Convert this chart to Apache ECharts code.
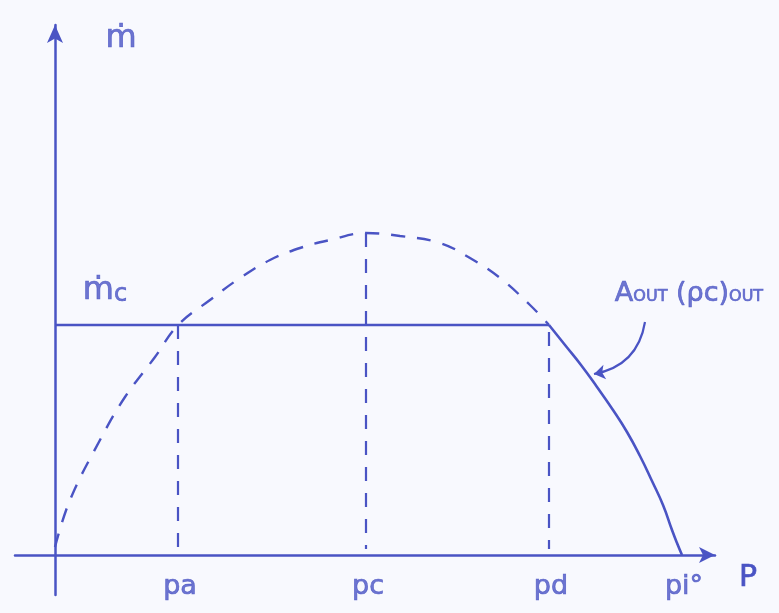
<!DOCTYPE html>
<html>
<head>
<meta charset="utf-8">
<script src="https://cdn.jsdelivr.net/npm/echarts@6/dist/echarts.min.js"></script>
<style>
  html, body { margin: 0; padding: 0; background: #f8f9fe; }
  #chart { width: 779px; height: 613px; }
</style>
</head>
<body>
<div id="chart"></div>
<script>
// Characteristic pressures marked on the p axis
const pressureNames = ['pa', 'pc', 'pd', 'pi°'];
const pressureValues = [12.3, 31.1, 49.4, 62.7];

// Choked mass flow ṁc
const chokedFlow = 23.0;

// Unrestricted mass-flow curve (dashed)
const idealP = [0, 1.5, 4.5, 7.0, 10.0, 12.3, 15.5, 18.5, 21.5, 24.5, 27.5, 31.1, 34.5, 38.5, 41.5, 44.5, 47.5, 49.4];
const idealM = [0.8, 5.5, 11.5, 15.8, 19.8, 23.0, 25.5, 27.7, 29.5, 30.7, 31.5, 32.2, 31.9, 31.2, 29.7, 27.7, 25.0, 23.0];

// Outlet-limited branch Aout(ρc)out (solid)
const outletP = [49.4, 51.0, 52.6, 54.2, 55.8, 57.2, 58.5, 59.7, 60.8, 61.7, 62.2, 62.7];
const outletM = [23.0, 21.0, 19.0, 16.8, 14.5, 12.3, 9.9, 7.4, 5.0, 2.5, 1.2, 0];

// Upper ends of the dashed drop lines at pa, pc, pd
const dropTops = [23.0, 32.2, 22.3];
const dropBottom = 0.6;

const ink = '#4a54c4';
const font = 'DejaVu Sans';
// slight outline thickens the glyphs to a pen-like stroke
const pen = { color: ink, fontFamily: font, textBorderColor: ink, textBorderWidth: 0.7 };

const zip = (xs, ys) => xs.map((x, i) => [x, ys[i]]);

const dropSeries = dropTops.map((top, i) => ({
  type: 'line',
  data: [[pressureValues[i], top], [pressureValues[i], dropBottom]],
  showSymbol: false,
  silent: true,
  lineStyle: { color: ink, width: 2.2, type: [14, 12] }
}));

const chart = echarts.init(document.getElementById('chart'));
chart.setOption({
  backgroundColor: '#f8f9fe',
  animation: false,
  grid: { left: 15, right: 64, top: 25, bottom: 18, containLabel: false },
  xAxis: {
    type: 'value', min: -4, max: 66,
    axisLine: {
      show: true, onZero: true,
      symbol: ['none', 'arrow'], symbolSize: [12, 16],
      lineStyle: { color: ink, width: 2.5 }
    },
    axisTick: { show: false }, axisLabel: { show: false }, splitLine: { show: false },
    name: 'P', nameLocation: 'end', nameGap: 24,
    nameTextStyle: Object.assign({ fontSize: 30, verticalAlign: 'top', padding: [8, 0, 0, 0] }, pen)
  },
  yAxis: {
    type: 'value', min: -4, max: 53,
    axisLine: {
      show: true, onZero: true,
      symbol: ['none', 'arrow'], symbolSize: [12, 18],
      lineStyle: { color: ink, width: 2.5 }
    },
    axisTick: { show: false }, axisLabel: { show: false }, splitLine: { show: false }
  },
  series: [
    {
      type: 'line',
      data: zip(idealP, idealM),
      smooth: 0.4, showSymbol: false, silent: true,
      lineStyle: { color: ink, width: 2.4, type: [14, 12] }
    },
    {
      type: 'line',
      data: [[0, chokedFlow], [pressureValues[2], chokedFlow]],
      showSymbol: false, silent: true,
      lineStyle: { color: ink, width: 2.5 }
    },
    {
      type: 'line',
      data: zip(outletP, outletM),
      smooth: 0.5, showSymbol: false, silent: true,
      lineStyle: { color: ink, width: 2.6 }
    },
    ...dropSeries,
    {
      // pointer from the Aout(ρc)out note to the outlet curve
      type: 'lines',
      coordinateSystem: 'cartesian2d',
      silent: true,
      symbol: ['none', 'arrow'], symbolSize: 11,
      lineStyle: { color: ink, width: 2.2, curveness: 0.35, opacity: 1 },
      data: [{ coords: [[59.0, 23.3], [53.9, 18.1]] }]
    },
    {
      type: 'scatter',
      symbolSize: 0, silent: true, clip: false,
      label: Object.assign({
        show: true, position: 'inside',
        formatter: p => p.data.text,
        rich: {
          big: Object.assign({ fontSize: 32 }, pen),
          mid: Object.assign({ fontSize: 27 }, pen),
          sub: Object.assign({ fontSize: 16, verticalAlign: 'bottom', padding: [0, 0, 3, 0] }, pen),
          subc: Object.assign({ fontSize: 24, verticalAlign: 'bottom' }, pen),
          tick: Object.assign({ fontSize: 27 }, pen)
        }
      }, pen),
      data: [
        { value: [6.6, 51.6], text: '{big|ṁ}' },
        { value: [5.0, 26.4], text: '{big|ṁ}{subc|c}' },
        { value: [63.4, 26.1], text: '{mid|A}{sub|OUT}{mid| (ρc)}{sub|OUT}' },
        ...pressureNames.map((n, i) => ({ value: [pressureValues[i] + 0.2, -3.2], text: '{tick|' + n + '}' }))
      ]
    }
  ]
});
</script>
</body>
</html>
